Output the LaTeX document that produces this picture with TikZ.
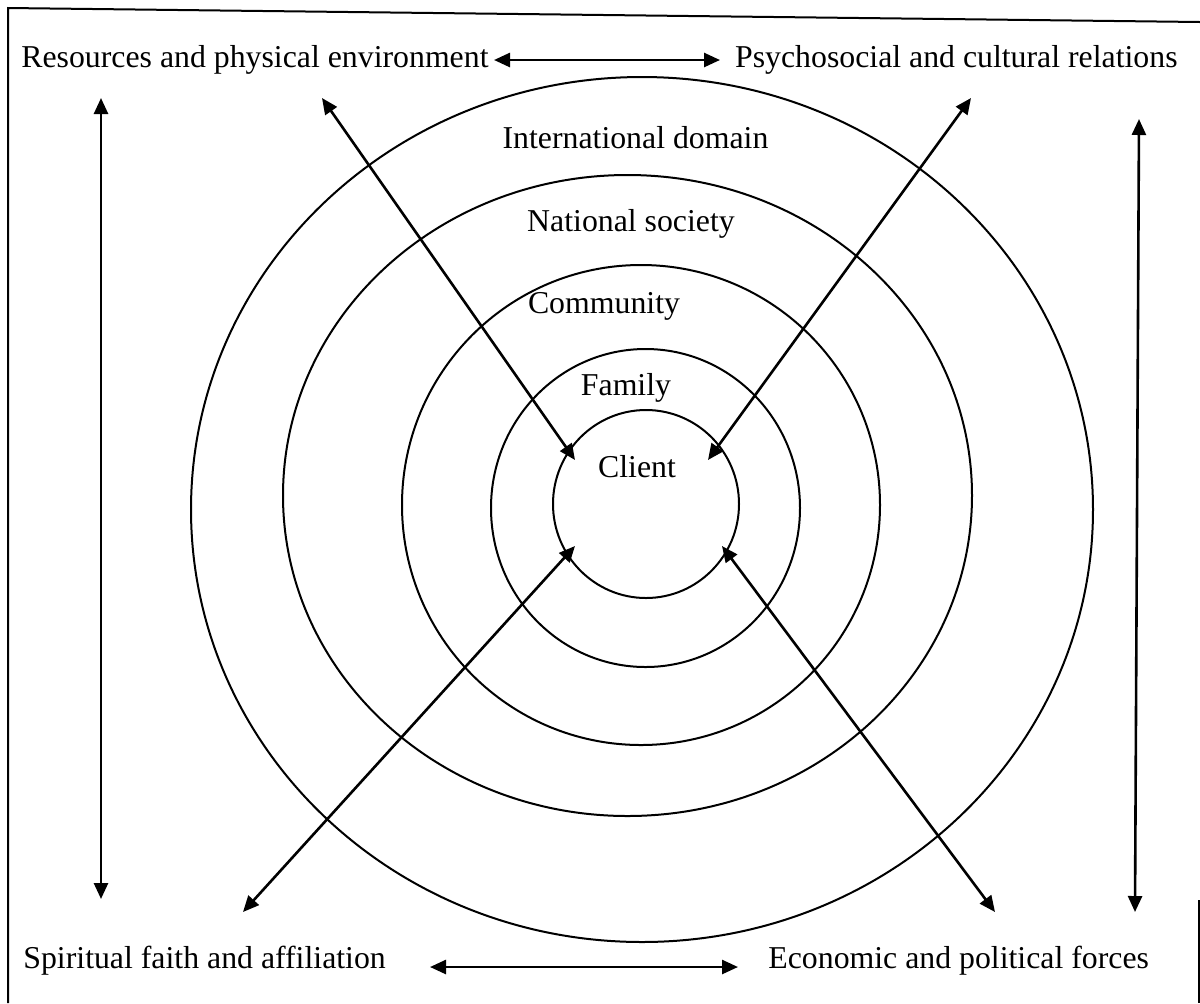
\documentclass[tikz,border=0pt]{standalone}
\usepackage{fontspec}
\setmainfont{Liberation Serif}
\usetikzlibrary{arrows.meta,shapes.geometric}
\begin{document}
\begin{tikzpicture}[x=0.5pt,y=-0.5pt,
  ring/.style={ellipse,draw,line width=1pt,inner sep=0pt},
  lbl/.style={font=\fontsize{15.9}{19}\selectfont,inner sep=0pt},
  link/.style={line width=1.3pt,{Triangle[length=8pt,width=7pt]}-{Triangle[length=8pt,width=7pt]}},
  frame/.style={line width=1pt}]
\useasboundingbox (0,0) rectangle (1200,1003);
% frame
\coordinate (f1) at (8,1003);
\coordinate (f2) at (8,8);
\coordinate (f3) at (1200,22);
\coordinate (f4) at (1199,900);
\coordinate (f5) at (1199,1003);
\draw[frame] (f1) -- (f2) -- (f3);
\draw[frame] (f4) -- (f5);
% rings
\node[ring,minimum width=451pt,minimum height=432.5pt] (intl) at (642,509.5) {};
\node[ring,minimum width=344.5pt,minimum height=320.5pt] (nat) at (627.5,495.5) {};
\node[ring,minimum width=239pt,minimum height=240pt] (comm) at (641,505) {};
\node[ring,minimum width=154.5pt,minimum height=159pt] (fam) at (645.5,508) {};
\node[ring,minimum width=93pt,minimum height=94pt] (client) at (646,504) {};
% ring labels
\node[lbl,anchor=base] (tintl) at (635.5,148) {International domain};
\node[lbl,anchor=base] (tnat) at (631,231) {National society};
\node[lbl,anchor=base] (tcomm) at (604,313) {Community};
\node[lbl,anchor=base] (tfam) at (626,395) {Family};
\node[lbl,anchor=base] (tclient) at (637,477) {Client};
% corner labels
\node[lbl,anchor=base west] (res) at (21,67) {Resources and physical environment};
\node[lbl,anchor=base east] (psy) at (1178,67) {Psychosocial and cultural relations};
\node[lbl,anchor=base west] (spi) at (23,968) {Spiritual faith and affiliation};
\node[lbl,anchor=base west] (eco) at (768,968) {Economic and political forces};
% arrow ends
\coordinate (th1) at (494,60);
\coordinate (th2) at (720,60);
\coordinate (bh1) at (430,967);
\coordinate (bh2) at (738,967);
\coordinate (lv1) at (101,98);
\coordinate (lv2) at (101,899);
\coordinate (rv1) at (1139,119);
\coordinate (rv2) at (1135,912);
\coordinate (nw1) at (322,98);
\coordinate (nw2) at (575,460);
\coordinate (ne1) at (971,98);
\coordinate (ne2) at (708,460);
\coordinate (sw1) at (243,912);
\coordinate (sw2) at (575,546);
\coordinate (se1) at (995,912);
\coordinate (se2) at (722,546);
% arrows
\draw[link] (th1) -- (th2);
\draw[link] (bh1) -- (bh2);
\draw[link] (lv1) -- (lv2);
\draw[link] (rv1) -- (rv2);
\draw[link] (nw1) -- (nw2);
\draw[link] (ne1) -- (ne2);
\draw[link] (sw1) -- (sw2);
\draw[link] (se1) -- (se2);
\end{tikzpicture}
\end{document}
